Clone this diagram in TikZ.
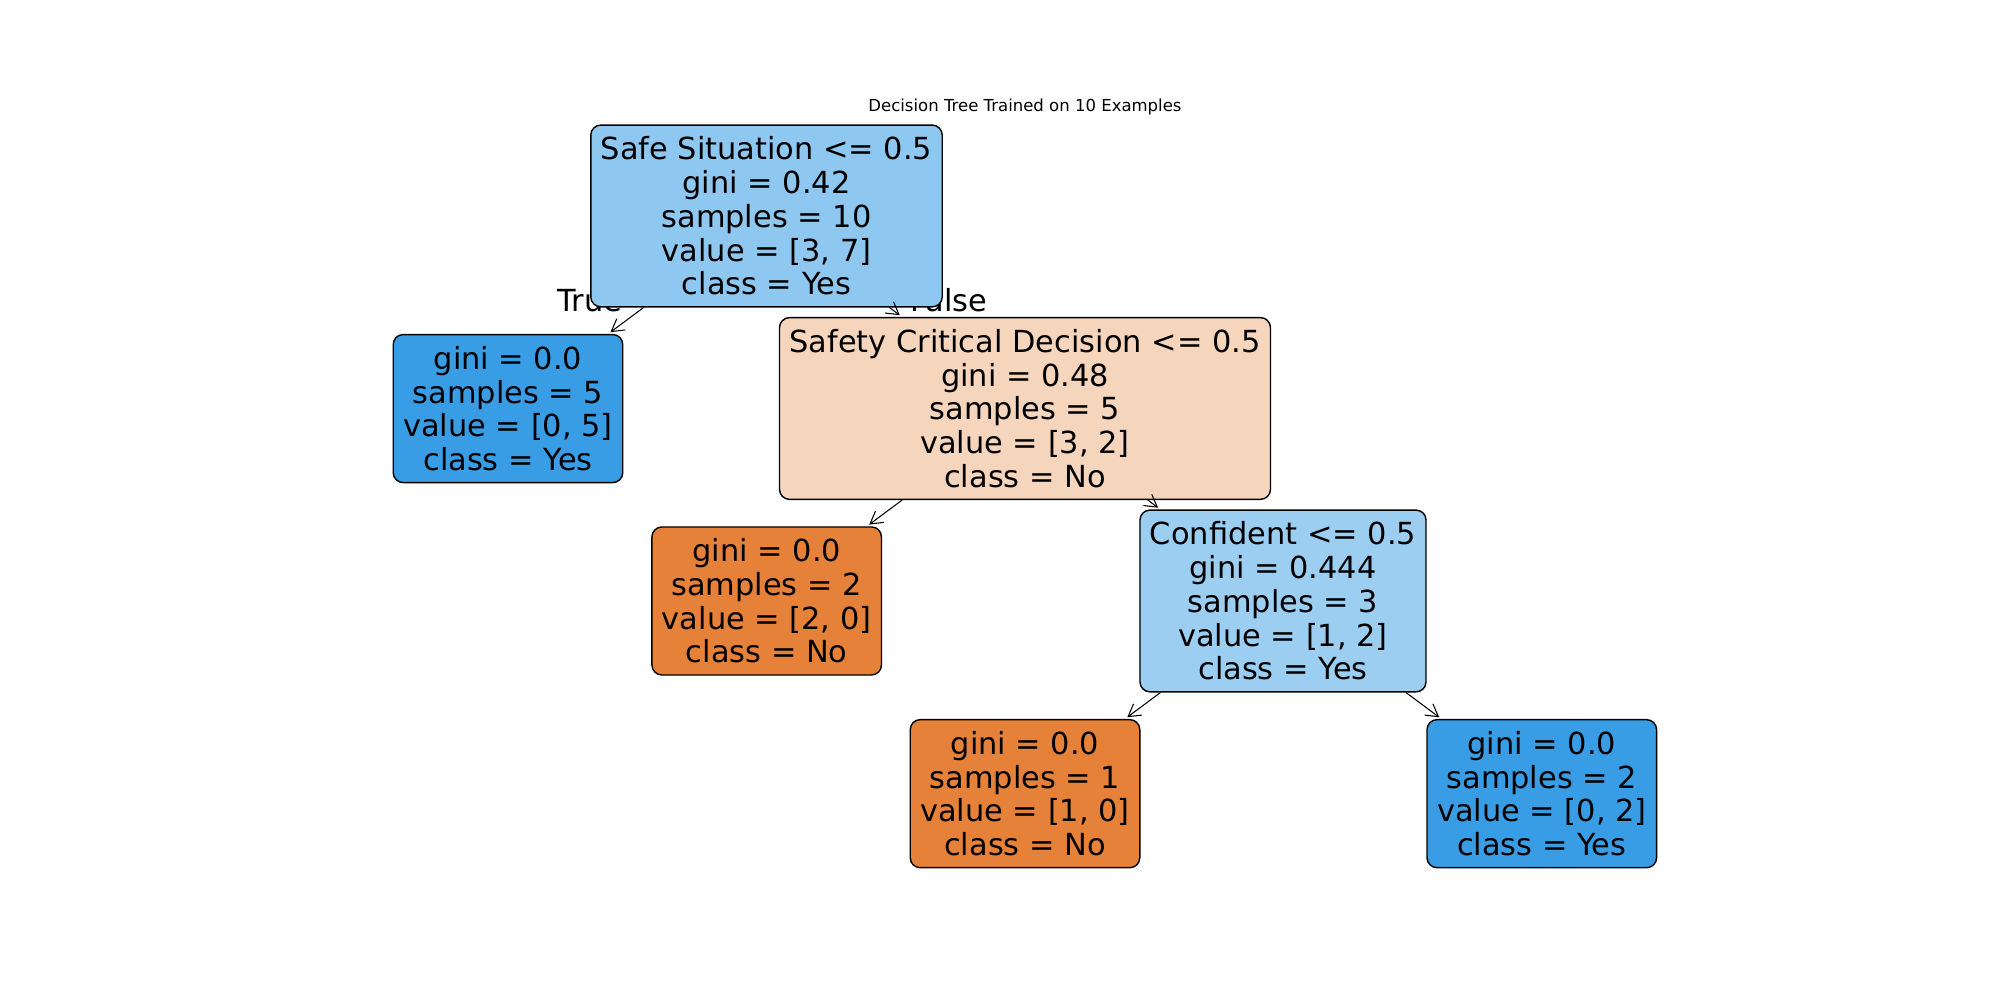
\documentclass[tikz,border=0pt]{standalone}
\usepackage{fontspec}
\setmainfont{DejaVu Sans}
\usetikzlibrary{arrows.meta}
\definecolor{yesblue}{RGB}{57,157,229}
\definecolor{noorange}{RGB}{229,129,57}
\definecolor{rootblue}{RGB}{142,199,240}
\definecolor{confblue}{RGB}{156,206,242}
\definecolor{safetypeach}{RGB}{246,213,189}
\tikzset{
  treenode/.style={draw=black,line width=0.4pt,rounded corners=0.1cm,inner xsep=0.1cm,inner ysep=0.117cm,align=center,font=\fontsize{8.65}{9.59}\selectfont},
  treearrow/.style={-{Straight Barb[length=0.12cm,width=0.14cm]},line width=0.3pt,shorten >=0.8pt},
  branchlabel/.style={inner sep=0pt,font=\fontsize{8.65}{9.59}\selectfont}
}
\begin{document}
\begin{tikzpicture}
    \useasboundingbox (0,0) rectangle (20,10);
    \node[anchor=base,font=\fontsize{4.7}{5.6}\selectfont] (title) at (10.25,8.888) {Decision Tree Trained on 10 Examples};
    % branch labels first, the root box lies over them
    \node[branchlabel,anchor=base east] (lblTrue) at (6.23,6.885) {True};
    \node[branchlabel,anchor=base west] (lblFalse) at (9.10,6.885) {False};
    \node[treenode,fill=rootblue] (root) at (7.665,7.84) {Safe Situation <= 0.5\\gini = 0.42\\samples = 10\\value = [3, 7]\\class = Yes};
    \node[treenode,fill=yesblue] (leafA) at (5.08,5.914) {gini = 0.0\\samples = 5\\value = [0, 5]\\class = Yes};
    \node[treenode,fill=safetypeach] (safety) at (10.25,5.915) {Safety Critical Decision <= 0.5\\gini = 0.48\\samples = 5\\value = [3, 2]\\class = No};
    \node[treenode,fill=noorange] (leafB) at (7.667,3.99) {gini = 0.0\\samples = 2\\value = [2, 0]\\class = No};
    \node[treenode,fill=confblue] (confident) at (12.83,3.99) {Confident <= 0.5\\gini = 0.444\\samples = 3\\value = [1, 2]\\class = Yes};
    \node[treenode,fill=noorange] (leafC) at (10.25,2.063) {gini = 0.0\\samples = 1\\value = [1, 0]\\class = No};
    \node[treenode,fill=yesblue] (leafD) at (15.418,2.063) {gini = 0.0\\samples = 2\\value = [0, 2]\\class = Yes};
    \draw[treearrow] (root) -- (leafA);
    \draw[treearrow] (root) -- (safety);
    \draw[treearrow] (safety) -- (leafB);
    \draw[treearrow] (safety) -- (confident);
    \draw[treearrow] (confident) -- (leafC);
    \draw[treearrow] (confident) -- (leafD);
\end{tikzpicture}
\end{document}
